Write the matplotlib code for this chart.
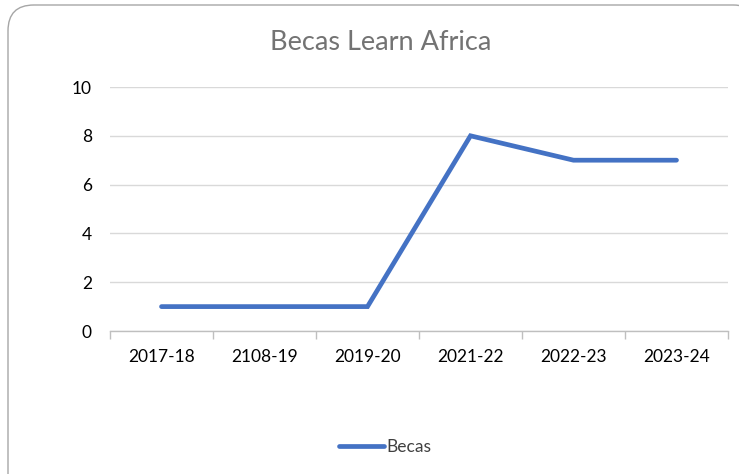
import matplotlib
matplotlib.use("Agg")
import matplotlib.pyplot as plt
from matplotlib.patches import FancyBboxPatch

categories = ["2017-18", "2108-19", "2019-20", "2021-22", "2022-23", "2023-24"]
becas = [1, 1, 1, 8, 7, 7]
yticks = [0, 2, 4, 6, 8, 10]

plt.rcParams['font.family'] = ['Lato', 'DejaVu Sans']

W, H = 739, 474
fig = plt.figure(figsize=(W/100, H/100), dpi=100)
fig.patch.set_facecolor('white')

# rounded chart border
border = FancyBboxPatch((8/W, -40/H), (W+20-8)/W, (H+40-5)/H,
                        boxstyle="round,pad=0,rounding_size=0.035",
                        transform=fig.transFigure, facecolor='white',
                        edgecolor='#a6a6a6', linewidth=1.0, zorder=-5,
                        mutation_aspect=W/H)
fig.patches.append(border)

left, right, top, bottom = 110, 728, 87, 331
ax = fig.add_axes([left/W, 1-bottom/H, (right-left)/W, (bottom-top)/H])
ax.set_zorder(2)
ax.set_facecolor('none')

x = list(range(len(categories)))
ax.plot(x, becas, color='#4472C4', linewidth=3.4, solid_capstyle='round',
        solid_joinstyle='miter', label='Becas', zorder=3)

ax.set_xlim(-0.5, len(categories)-0.5)
ax.set_ylim(0, 10)
ax.set_yticks(yticks)
ax.set_yticklabels([str(v) for v in yticks], fontsize=12.5, color='#000000')
ax.yaxis.grid(True, color='#d9d9d9', linewidth=1.0)
ax.set_axisbelow(True)

ax.set_xticks(x)
ax.set_xticklabels(categories, fontsize=12.5, color='#000000')
ax.tick_params(axis='x', length=0, pad=13)
ax.tick_params(axis='y', length=0, pad=13)
ax.set_xticks([i-0.5 for i in range(len(categories)+1)], minor=True)
ax.tick_params(axis='x', which='minor', length=6, color='#bfbfbf', width=1.0)

for s in ['top', 'right', 'left']:
    ax.spines[s].set_visible(False)
ax.spines['bottom'].set_color('#bfbfbf')
ax.spines['bottom'].set_linewidth(1.0)

fig.text(381/W, 1-43/H, "Becas Learn Africa", ha='center', va='center',
         fontsize=19.5, color='#737373', zorder=5)

leg = fig.legend(handles=ax.get_lines(), loc='center', bbox_to_anchor=(385/W, 1-447/H),
                 frameon=False, fontsize=12.5, handlelength=2.6, handletextpad=0.1)
leg.set_zorder(5)
for t in leg.get_texts():
    t.set_color('#404040')

fig.savefig("out.png", dpi=100)
